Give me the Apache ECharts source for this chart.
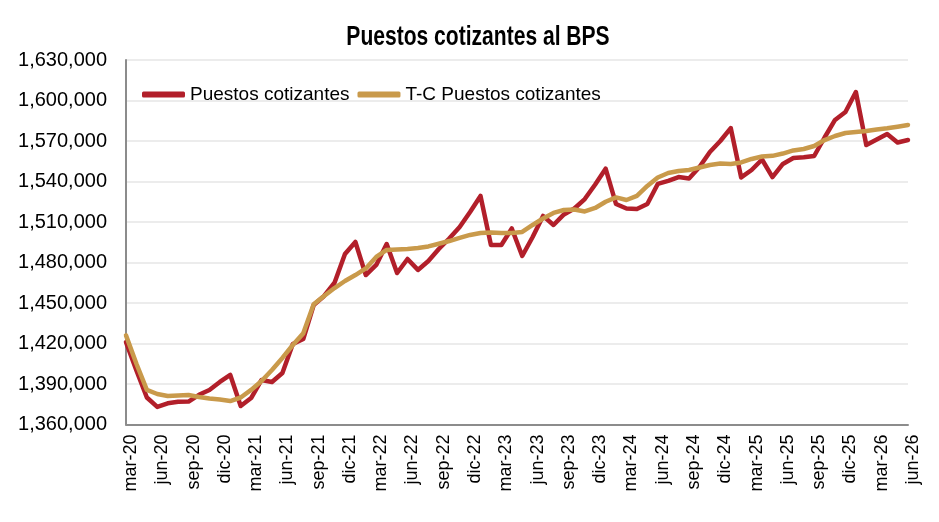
<!DOCTYPE html>
<html>
<head>
<meta charset="utf-8">
<script src="https://cdn.jsdelivr.net/npm/echarts@6/dist/echarts.min.js"></script>
<style>
html,body{margin:0;padding:0;background:#fff;}
#chart{width:939px;height:522px;}
</style>
</head>
<body>
<div id="chart"></div>
<script>
var categories = [
  'mar-20','abr-20','may-20','jun-20','jul-20','ago-20','sep-20','oct-20','nov-20','dic-20',
  'ene-21','feb-21','mar-21','abr-21','may-21','jun-21','jul-21','ago-21','sep-21','oct-21','nov-21','dic-21',
  'ene-22','feb-22','mar-22','abr-22','may-22','jun-22','jul-22','ago-22','sep-22','oct-22','nov-22','dic-22',
  'ene-23','feb-23','mar-23','abr-23','may-23','jun-23','jul-23','ago-23','sep-23','oct-23','nov-23','dic-23',
  'ene-24','feb-24','mar-24','abr-24','may-24','jun-24','jul-24','ago-24','sep-24','oct-24','nov-24','dic-24',
  'ene-25','feb-25','mar-25','abr-25','may-25','jun-25','jul-25','ago-25','sep-25','oct-25','nov-25','dic-25',
  'ene-26','feb-26','mar-26','abr-26','may-26','jun-26'
];

var puestosCotizantes = [
  1421000,1400000,1380000,1373000,1375700,1376900,1377000,1382000,1385600,1391500,
  1396700,1373700,1379600,1393000,1391500,1398200,1419600,1423300,1448500,1455200,1465000,1486300,
  1495200,1470700,1478200,1493700,1472200,1482600,1474500,1481100,1490000,1497800,1506300,1517400,
  1529300,1493000,1493000,1505200,1484800,1498900,1514500,1507800,1515600,1520000,1527000,1537800,
  1549500,1523300,1520000,1519600,1523300,1538200,1540400,1543300,1542200,1550700,1561900,1570000,
  1579600,1543000,1548500,1556300,1543300,1553000,1557400,1558000,1558900,1572600,1585600,1591500,
  1606300,1567000,1571100,1575200,1568900,1570700
];

var tcPuestosCotizantes = [
  1426000,1405000,1385600,1382600,1381100,1381500,1381900,1380400,1379300,1378500,
  1377400,1380000,1385600,1392200,1400400,1409300,1418900,1427500,1449000,1455200,1461100,1466300,
  1470700,1475600,1484100,1489300,1489600,1490000,1490700,1491900,1493900,1495900,1498200,1500400,
  1501900,1502300,1501900,1501900,1502600,1507800,1512600,1516700,1518900,1519300,1517800,1520400,
  1525000,1528200,1526300,1529300,1536700,1543000,1546300,1547800,1548500,1550400,1552200,1553300,
  1552900,1554100,1556700,1558500,1559000,1560700,1563000,1564100,1566300,1570700,1573700,1575900,
  1576700,1577400,1578500,1579400,1580600,1581900
];

var seriesNames = ['Puestos cotizantes', 'T-C Puestos cotizantes'];
var titleText = 'Puestos cotizantes al BPS';
var yMin = 1360000, yMax = 1630000, yStep = 30000;

var FONT = "'Liberation Sans', Arial, sans-serif";
var chart = echarts.init(document.getElementById('chart'), null, {renderer: 'canvas'});
chart.setOption({
  animation: false,
  backgroundColor: '#ffffff',
  graphic: [{
    type: 'text',
    x: 478,
    y: 38,
    scaleX: 0.78,
    style: {
      text: titleText,
      font: "bold 27px 'Liberation Sans', Arial, sans-serif",
      textAlign: 'center',
      textVerticalAlign: 'middle',
      fill: '#000'
    }
  }],
  legend: {
    left: 137,
    top: 80,
    itemWidth: 43,
    itemHeight: 6,
    itemGap: 8,
    icon: 'roundRect',
    textStyle: {fontFamily: FONT, fontSize: 19, color: '#000'},
    data: seriesNames
  },
  grid: {left: 126, right: 31, top: 60, bottom: 97.5},
  xAxis: {
    type: 'category',
    data: categories,
    boundaryGap: false,
    axisLine: {show: true, lineStyle: {color: '#8c8c8c', width: 2}},
    axisTick: {show: false},
    axisLabel: {
      interval: 2,
      rotate: 90,
      margin: 10,
      verticalAlign: 'top',
      lineHeight: 10,
      fontFamily: FONT,
      fontSize: 18,
      color: '#000'
    },
    splitLine: {show: false}
  },
  yAxis: {
    type: 'value',
    min: yMin,
    max: yMax,
    interval: yStep,
    axisLine: {show: true, lineStyle: {color: '#8c8c8c', width: 2}},
    axisTick: {show: false},
    axisLabel: {
      margin: 19,
      fontFamily: FONT,
      fontSize: 20,
      color: '#000',
      formatter: function (v) { return v.toLocaleString('en-US'); }
    },
    splitLine: {show: true, lineStyle: {color: '#ececec', width: 2}}
  },
  series: [
    {
      name: seriesNames[0],
      type: 'line',
      data: puestosCotizantes,
      symbol: 'none',
      smooth: false,
      color: '#b21f2a',
      lineStyle: {width: 4.5, color: '#b21f2a', cap: 'round', join: 'round'}
    },
    {
      name: seriesNames[1],
      type: 'line',
      data: tcPuestosCotizantes,
      symbol: 'none',
      smooth: false,
      color: '#c99a4b',
      lineStyle: {width: 4.5, color: '#c99a4b', cap: 'round', join: 'round'}
    }
  ]
});
</script>
</body>
</html>
